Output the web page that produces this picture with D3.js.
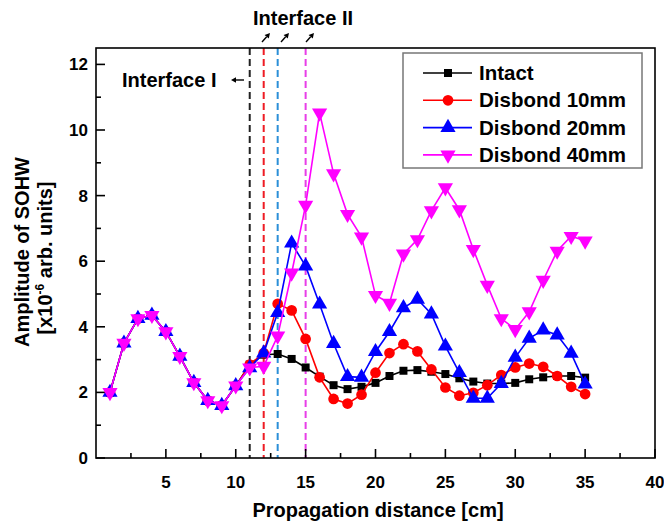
<!DOCTYPE html>
<head>
    <meta charset="utf-8">
</head>
<style>
    body {
        margin: 0;
        background: #fff;
    }
    text {
        font-family: "Liberation Sans", Arial, sans-serif;
        font-weight: bold;
    }
    .tick-label {
        font-size: 17px;
    }
    .axis-title {
        font-size: 20px;
    }
    .legend-label {
        font-size: 20.5px;
    }
</style>

<svg id="chart" width="664" height="527"></svg>

<script src="https://cdnjs.cloudflare.com/ajax/libs/d3/7.8.5/d3.min.js"></script>
<script>

    var distance = d3.range(1, 36);

    var intact = [2.0, 3.5, 4.25, 4.35, 3.85, 3.1, 2.3, 1.75, 1.6, 2.2, 2.85, 3.15, 3.17, 3.02, 2.76, 2.48,
        2.22, 2.1, 2.17, 2.29, 2.5, 2.66, 2.68, 2.63, 2.56, 2.43, 2.33, 2.27, 2.27, 2.29, 2.4, 2.46, 2.5, 2.5, 2.45];
    var disbond10 = [2.0, 3.5, 4.25, 4.35, 3.85, 3.1, 2.3, 1.75, 1.6, 2.2, 2.85, 3.2, 4.7, 4.5, 3.63, 2.46,
        1.8, 1.66, 1.93, 2.6, 3.2, 3.47, 3.25, 2.7, 2.15, 1.9, 1.99, 2.22, 2.53, 2.76, 2.88, 2.78, 2.5, 2.17, 1.95];
    var disbond20 = [2.0, 3.5, 4.25, 4.35, 3.85, 3.1, 2.3, 1.75, 1.6, 2.2, 2.75, 3.2, 4.43, 6.55, 5.85, 4.69,
        3.49, 2.48, 2.46, 3.24, 3.85, 4.58, 4.84, 4.39, 3.41, 2.6, 1.82, 1.82, 2.27, 3.07, 3.65, 3.9, 3.75, 3.19, 2.25];
    var disbond40 = [2.0, 3.5, 4.25, 4.35, 3.85, 3.1, 2.3, 1.75, 1.6, 2.2, 2.75, 2.8, 3.72, 5.64, 7.71, 10.52,
        8.67, 7.43, 6.74, 4.96, 4.72, 6.22, 6.66, 7.54, 8.24, 7.57, 6.36, 5.27, 4.25, 3.92, 4.46, 5.42, 6.31, 6.76, 6.62];

    var seriesNames = ["Intact", "Disbond 10mm", "Disbond 20mm", "Disbond 40mm"];
    var seriesValues = [intact, disbond10, disbond20, disbond40];
    var seriesColors = ["#000000", "#ff0000", "#0000ff", "#ff00ff"];
    var seriesSymbols = [d3.symbolSquare, d3.symbolCircle, d3.symbolTriangle, d3.symbolTriangle];

    // interface positions (cm) and their colours
    var interfaces = [11, 12, 13, 15];
    var interfaceColors = ["#222222", "#ee1c24", "#2b8fd8", "#e83ee8"];

    var xTicks = [5, 10, 15, 20, 25, 30, 35, 40];
    var xMinorTicks = d3.range(2.5, 40, 5);
    var yTicks = [0, 2, 4, 6, 8, 10, 12];
    var yMinorTicks = [1, 3, 5, 7, 9, 11];

    var svg = d3.select("#chart");
    var margin = {left: 96, right: 9, top: 48, bottom: 69};
    var width = +svg.attr("width");
    var height = +svg.attr("height");

    var x = d3.scaleLinear()
        .domain([0, 40])
        .range([margin.left, width - margin.right]);
    var y = d3.scaleLinear()
        .domain([0, 12.5])
        .range([height - margin.bottom, margin.top]);

    // dashed interface lines
    svg.append("g")
        .selectAll("line")
        .data(interfaces)
        .enter().append("line")
        .attr("x1", function (d) { return x(d); })
        .attr("x2", function (d) { return x(d); })
        .attr("y1", y.range()[1])
        .attr("y2", y.range()[0])
        .attr("stroke", function (d, i) { return interfaceColors[i]; })
        .attr("stroke-width", 2)
        .attr("stroke-dasharray", "7,4");

    // frame
    svg.append("rect")
        .attr("x", x.range()[0])
        .attr("y", y.range()[1])
        .attr("width", x.range()[1] - x.range()[0])
        .attr("height", y.range()[0] - y.range()[1])
        .attr("fill", "none")
        .attr("stroke", "#000")
        .attr("stroke-width", 1.6);

    // axes, ticks inward
    var xAxis = svg.append("g")
        .attr("transform", "translate(0," + y.range()[0] + ")");
    xAxis.selectAll("line.major")
        .data(xTicks)
        .enter().append("line")
        .attr("x1", x).attr("x2", x)
        .attr("y1", 0).attr("y2", -9)
        .attr("stroke", "#000").attr("stroke-width", 1.6);
    xAxis.selectAll("line.minor")
        .data(xMinorTicks)
        .enter().append("line")
        .attr("x1", x).attr("x2", x)
        .attr("y1", 0).attr("y2", -5)
        .attr("stroke", "#000").attr("stroke-width", 1.6);
    xAxis.selectAll("text")
        .data(xTicks)
        .enter().append("text")
        .attr("class", "tick-label")
        .attr("x", x)
        .attr("y", 30)
        .attr("text-anchor", "middle")
        .text(function (d) { return d; });

    var yAxis = svg.append("g")
        .attr("transform", "translate(" + x.range()[0] + ",0)");
    yAxis.selectAll("line.major")
        .data(yTicks)
        .enter().append("line")
        .attr("y1", y).attr("y2", y)
        .attr("x1", 0).attr("x2", 9)
        .attr("stroke", "#000").attr("stroke-width", 1.6);
    yAxis.selectAll("line.minor")
        .data(yMinorTicks)
        .enter().append("line")
        .attr("y1", y).attr("y2", y)
        .attr("x1", 0).attr("x2", 5)
        .attr("stroke", "#000").attr("stroke-width", 1.6);
    yAxis.selectAll("text")
        .data(yTicks)
        .enter().append("text")
        .attr("class", "tick-label")
        .attr("x", -8)
        .attr("y", function (d) { return y(d) + 6; })
        .attr("text-anchor", "end")
        .text(function (d) { return d; });

    // series
    var line = d3.line()
        .x(function (d, i) { return x(distance[i]); })
        .y(function (d) { return y(d); });

    function symbolPath(i, size) {
        return d3.symbol().type(seriesSymbols[i]).size(size)();
    }
    var symbolSizes = [64, 90, 100, 100];

    seriesValues.forEach(function (values, i) {
        var g = svg.append("g");
        g.append("path")
            .datum(values)
            .attr("d", line)
            .attr("fill", "none")
            .attr("stroke", seriesColors[i])
            .attr("stroke-width", 1.6);
        g.selectAll("path.marker")
            .data(values)
            .enter().append("path")
            .attr("class", "marker")
            .attr("d", symbolPath(i, symbolSizes[i]))
            .attr("transform", function (d, j) {
                var t = "translate(" + x(distance[j]) + "," + y(d) + ")";
                return i === 3 ? t + " rotate(180)" : t;
            })
            .attr("fill", seriesColors[i]);
    });

    // legend
    var legend = svg.append("g");
    legend.append("rect")
        .attr("x", 403)
        .attr("y", 53)
        .attr("width", 239)
        .attr("height", 115)
        .attr("fill", "#fff")
        .attr("stroke", "#777")
        .attr("stroke-width", 1.5);
    var rows = legend.selectAll("g.row")
        .data(seriesNames)
        .enter().append("g")
        .attr("class", "row")
        .attr("transform", function (d, i) { return "translate(0," + (73 + i * 27.3) + ")"; });
    rows.append("line")
        .attr("x1", 423).attr("x2", 472)
        .attr("stroke", function (d, i) { return seriesColors[i]; })
        .attr("stroke-width", 1.6);
    rows.append("path")
        .attr("d", function (d, i) { return symbolPath(i, symbolSizes[i]); })
        .attr("transform", function (d, i) { return "translate(448,0)" + (i === 3 ? " rotate(180)" : ""); })
        .attr("fill", function (d, i) { return seriesColors[i]; });
    rows.append("text")
        .attr("class", "legend-label")
        .attr("x", 479)
        .attr("y", 7)
        .text(function (d) { return d; });

    // annotations
    svg.append("text")
        .attr("class", "axis-title")
        .attr("x", 122)
        .attr("y", 87)
        .text("Interface I");
    svg.append("text")
        .attr("class", "axis-title")
        .attr("x", 253)
        .attr("y", 25)
        .text("Interface II");

    var arrowPaths = [
        {x1: 244, y1: 80, x2: 231, y2: 80},
        {x1: 262, y1: 42, x2: 270, y2: 33},
        {x1: 281, y1: 42, x2: 289, y2: 33},
        {x1: 306, y1: 42, x2: 314, y2: 33}
    ];
    arrowPaths.forEach(function (a) {
        var ang = Math.atan2(a.y2 - a.y1, a.x2 - a.x1);
        var hl = 5, hw = 2.8;
        var bx = a.x2 - hl * Math.cos(ang), by = a.y2 - hl * Math.sin(ang);
        svg.append("line")
            .attr("x1", a.x1).attr("y1", a.y1)
            .attr("x2", bx).attr("y2", by)
            .attr("stroke", "#000").attr("stroke-width", 1.4);
        svg.append("path")
            .attr("d", "M" + a.x2 + "," + a.y2 +
                "L" + (bx + hw * Math.sin(ang)) + "," + (by - hw * Math.cos(ang)) +
                "L" + (bx - hw * Math.sin(ang)) + "," + (by + hw * Math.cos(ang)) + "Z")
            .attr("fill", "#000");
    });

    // axis titles
    svg.append("text")
        .attr("class", "axis-title")
        .attr("x", 378)
        .attr("y", 517)
        .attr("text-anchor", "middle")
        .text("Propagation distance [cm]");

    svg.append("text")
        .attr("class", "axis-title")
        .attr("transform", "translate(29,252) rotate(-90)")
        .attr("text-anchor", "middle")
        .text("Amplitude of SOHW");
    var line2 = svg.append("text")
        .attr("class", "axis-title")
        .attr("transform", "translate(52,258) rotate(-90)")
        .attr("text-anchor", "middle");
    line2.append("tspan").text("[x10");
    line2.append("tspan")
        .attr("dy", -8)
        .style("font-size", "12px")
        .text("-6");
    line2.append("tspan")
        .attr("dy", 8)
        .text(" arb. units]");

</script>
